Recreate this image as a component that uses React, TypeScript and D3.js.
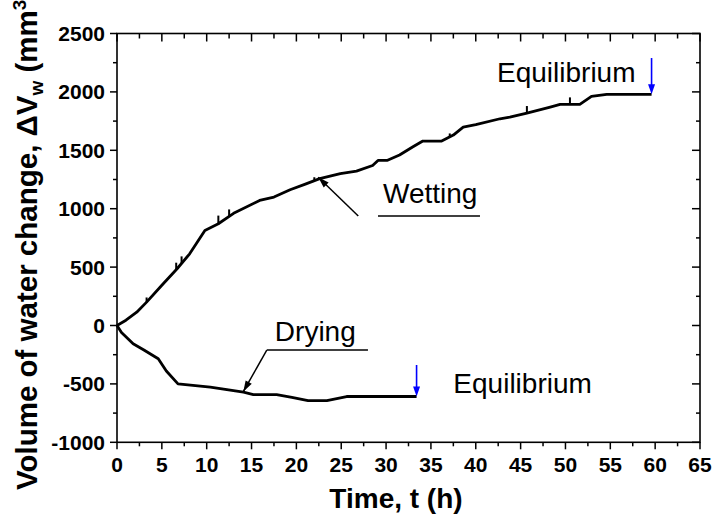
import React from "react";
import * as d3 from "d3";

const wettingT = [0, 1, 2.2, 3.3, 5, 6.7, 8.1, 9.8, 11.3, 13, 15.9, 17.5, 19.3, 21, 22.6, 24.9, 26.7, 28.5, 29.1, 30.1, 31.5, 33.0, 34.1, 36.2, 37.5, 38.6, 40, 42.7, 43.8, 45.7, 48.3, 49.4, 51.6, 52.9, 54.6, 59.6];
const wettingV = [0, 45, 114, 200, 345, 486, 614, 814, 871, 960, 1071, 1100, 1162, 1210, 1257, 1300, 1322, 1370, 1413, 1413, 1460, 1530, 1579, 1579, 1630, 1699, 1720, 1770, 1784, 1819, 1870, 1893, 1893, 1962, 1979, 1979];

const spikeT = [3.3, 6.6, 7.2, 11.3, 12.5, 22.0, 37.1, 45.7, 50.5];
const spikeH = [40, 60, 60, 70, 60, 30, 30, 60, 60];

const dryingT = [0, 0.5, 1.8, 3, 4.6, 5.5, 6.8, 10.4, 14.1, 15.2, 17.8, 19.5, 21.3, 23.4, 25.6, 33.4];
const dryingV = [0, -60, -157, -210, -285, -390, -500, -528, -571, -591, -591, -615, -643, -643, -608, -608];

const xTicks = [0, 5, 10, 15, 20, 25, 30, 35, 40, 45, 50, 55, 60, 65];
const yTicks = [-1000, -500, 0, 500, 1000, 1500, 2000, 2500];

const FONT = "'Liberation Sans', Arial, sans-serif";

export default function App() {
  const W = 712, H = 517;
  const x = d3.scaleLinear().domain([0, 65]).range([117, 700]);
  const y = d3.scaleLinear().domain([-1000, 2500]).range([442.3, 33.5]);
  const line = d3.line<[number, number]>().x(d => x(d[0])).y(d => y(d[1]));
  const wet: [number, number][] = wettingT.map((t, i) => [t, wettingV[i]]);
  const dry: [number, number][] = dryingT.map((t, i) => [t, dryingV[i]]);
  const wetInterp = d3.scaleLinear().domain(wettingT).range(wettingV);

  const xMinor = d3.range(0, 65.01, 2.5);
  const yMinor = d3.range(-1000, 2500.1, 250);
  const [x0, x1] = x.range();
  const [yb, yt] = y.range();

  const arrowHead = (fx: number, fy: number, tx: number, ty: number, len: number, wid: number) => {
    const ang = Math.atan2(ty - fy, tx - fx);
    const bx = tx - len * Math.cos(ang), by = ty - len * Math.sin(ang);
    const px = -Math.sin(ang) * wid / 2, py = Math.cos(ang) * wid / 2;
    return `M${tx},${ty} L${bx + px},${by + py} L${bx - px},${by - py} Z`;
  };

  const annArrows = [
    { from: [26.9, 937], to: [22.44, 1269] },
    { from: [16.7, -210], to: [14.08, -567] },
  ];
  const blueArrows = [
    { from: [59.6, 2290], to: [59.6, 1979] },
    { from: [33.4, -338], to: [33.4, -608] },
  ];
  const underlines = [
    { t0: 29.1, t1: 40.47, v: 937 },
    { t0: 16.7, t1: 27.98, v: -210 },
  ];
  const labels = [
    { text: "Wetting", t: 29.66, v: 1046 },
    { text: "Drying", t: 17.6, v: -130 },
    { text: "Equilibrium", t: 42.37, v: 2087 },
    { text: "Equilibrium", t: 37.5, v: -580 },
  ];

  return (
    <div style={{ position: "absolute", left: 0, top: 0 }}>
      <svg width={W} height={H} style={{ display: "block", background: "#fff" }}>
        <rect x={0} y={0} width={W} height={H} fill="#fff" />
        <rect x={x0} y={yt} width={x1 - x0} height={yb - yt} fill="none" stroke="#000" strokeWidth={1.6} />
        {xMinor.map((t, i) => {
          const major = i % 2 === 0;
          return (
            <g key={"xt" + i}>
              <line x1={x(t)} x2={x(t)} y1={yb} y2={yb + (major ? 7 : 4)} stroke="#000" strokeWidth={1.5} />
              <line x1={x(t)} x2={x(t)} y1={yt} y2={yt + (major ? 8 : 5)} stroke="#000" strokeWidth={1.5} />
            </g>
          );
        })}
        {yMinor.map((v, i) => {
          const major = i % 2 === 0;
          return (
            <g key={"yt" + i}>
              <line x1={x0} x2={x0 - (major ? 7 : 4)} y1={y(v)} y2={y(v)} stroke="#000" strokeWidth={1.5} />
              <line x1={x1} x2={x1 - (major ? 8 : 4)} y1={y(v)} y2={y(v)} stroke="#000" strokeWidth={1.5} />
            </g>
          );
        })}
        {xTicks.map(t => (
          <text key={"xl" + t} x={x(t)} y={472} textAnchor="middle" fontFamily={FONT} fontWeight="bold" fontSize={21}>{t}</text>
        ))}
        {yTicks.map(v => (
          <text key={"yl" + v} x={105} y={y(v)} dy="0.36em" textAnchor="end" fontFamily={FONT} fontWeight="bold" fontSize={21}>{v}</text>
        ))}
        <text x={396} y={508} textAnchor="middle" fontFamily={FONT} fontWeight="bold" fontSize={28}>Time, t (h)</text>
        <text transform="translate(37,490) rotate(-90)" textAnchor="start" fontFamily={FONT} fontWeight="bold" fontSize={29.5}>
          Volume of water change, ΔV<tspan fontSize={19} dy={6}>w</tspan><tspan dy={-6}> (mm</tspan><tspan fontSize={19} dy={-11}>3</tspan><tspan dy={11}>)</tspan>
        </text>
        <path d={line(wet) || ""} fill="none" stroke="#000" strokeWidth={2.8} strokeLinejoin="round" />
        {spikeT.map((t, i) => (
          <line key={"sp" + i} x1={x(t)} x2={x(t)} y1={y(wetInterp(t))} y2={y(wetInterp(t) + spikeH[i])} stroke="#000" strokeWidth={2} />
        ))}
        <path d={line(dry) || ""} fill="none" stroke="#000" strokeWidth={2.8} strokeLinejoin="round" />
        {annArrows.map((a, i) => {
          const fx = x(a.from[0]), fy = y(a.from[1]), tx = x(a.to[0]), ty = y(a.to[1]);
          return (
            <g key={"aa" + i}>
              <line x1={fx} y1={fy} x2={tx} y2={ty} stroke="#000" strokeWidth={1.5} />
              <path d={arrowHead(fx, fy, tx, ty, 11, 7)} fill="#000" />
            </g>
          );
        })}
        {underlines.map((u, i) => (
          <line key={"ul" + i} x1={x(u.t0)} x2={x(u.t1)} y1={y(u.v)} y2={y(u.v)} stroke="#000" strokeWidth={1.5} />
        ))}
        {blueArrows.map((a, i) => {
          const fx = x(a.from[0]), fy = y(a.from[1]), tx = x(a.to[0]), ty = y(a.to[1]);
          return (
            <g key={"ba" + i}>
              <line x1={fx} y1={fy} x2={tx} y2={ty - 6} stroke="#0000ff" strokeWidth={1.6} />
              <path d={arrowHead(fx, fy, tx, ty, 10, 7)} fill="#0000ff" />
            </g>
          );
        })}
        {labels.map((l, i) => (
          <text key={"lb" + i} x={x(l.t)} y={y(l.v)} fontFamily={FONT} fontSize={28}>{l.text}</text>
        ))}
      </svg>
    </div>
  );
}
